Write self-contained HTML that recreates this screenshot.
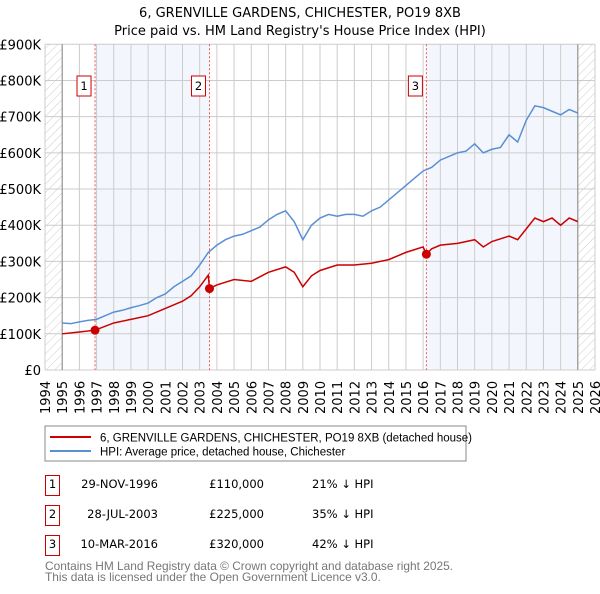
<!DOCTYPE html>
<html><head><meta charset="utf-8"><style>
body{margin:0;background:#fff;width:600px;height:590px;overflow:hidden;font-family:"DejaVu Sans","Liberation Sans",sans-serif;}
svg text{font-family:"DejaVu Sans","Liberation Sans",sans-serif;}
svg .lib{font-family:"Liberation Sans",sans-serif;}
</style></head><body>
<svg id="c" width="600" height="590" xmlns="http://www.w3.org/2000/svg">
<defs><pattern id="h" width="6" height="6" patternUnits="userSpaceOnUse" patternTransform="rotate(45)"><line x1="0" y1="0" x2="0" y2="6" stroke="#ccc" stroke-width="1"/></pattern></defs>
<text x="300" y="17" text-anchor="middle" font-size="13">6, GRENVILLE GARDENS, CHICHESTER, PO19 8XB</text>
<text x="300" y="35" text-anchor="middle" font-size="13">Price paid vs. HM Land Registry's House Price Index (HPI)</text>
<g id="plot"></g>
<rect x="45" y="426" width="421" height="35" fill="#fff" stroke="#888"/>
<line x1="50" y1="437" x2="91" y2="437" stroke="#cc0000" stroke-width="2"/>
<text class="lib" x="100" y="441.5" font-size="11.5">6, GRENVILLE GARDENS, CHICHESTER, PO19 8XB (detached house)</text>
<line x1="50" y1="451" x2="91" y2="451" stroke="#5b8fd4" stroke-width="2"/>
<text class="lib" x="100" y="455.5" font-size="11.5">HPI: Average price, detached house, Chichester</text>
<g class="lib" font-size="11.5">
<rect x="45.5" y="475.5" width="14" height="20" fill="#fff" stroke="#cc0000"/><text x="52.5" y="488" text-anchor="middle">1</text>
<text x="158" y="488" text-anchor="end">29-NOV-1996</text><text x="264" y="488" text-anchor="end">£110,000</text><text x="312" y="488">21% ↓ HPI</text>
<rect x="45.5" y="505.5" width="14" height="20" fill="#fff" stroke="#cc0000"/><text x="52.5" y="518" text-anchor="middle">2</text>
<text x="158" y="518" text-anchor="end">28-JUL-2003</text><text x="264" y="518" text-anchor="end">£225,000</text><text x="312" y="518">35% ↓ HPI</text>
<rect x="45.5" y="535.5" width="14" height="20" fill="#fff" stroke="#cc0000"/><text x="52.5" y="548" text-anchor="middle">3</text>
<text x="158" y="548" text-anchor="end">10-MAR-2016</text><text x="264" y="548" text-anchor="end">£320,000</text><text x="312" y="548">42% ↓ HPI</text>
</g>
<text class="lib" x="45" y="570" font-size="11.9" fill="#777">Contains HM Land Registry data © Crown copyright and database right 2025.</text>
<text class="lib" x="45" y="581" font-size="11.9" fill="#777">This data is licensed under the Open Government Licence v3.0.</text>
</svg>
<script>
const hpiYears=[1995,1995.5,1996,1996.5,1997,1997.5,1998,1998.5,1999,1999.5,2000,2000.5,2001,2001.5,2002,2002.5,2003,2003.5,2004,2004.5,2005,2005.5,2006,2006.5,2007,2007.5,2008,2008.5,2009,2009.5,2010,2010.5,2011,2011.5,2012,2012.5,2013,2013.5,2014,2014.5,2015,2015.5,2016,2016.5,2017,2017.5,2018,2018.5,2019,2019.5,2020,2020.5,2021,2021.5,2022,2022.5,2023,2023.5,2024,2024.5,2025];
const hpiValues=[130,128,133,137,140,150,160,165,172,178,185,200,210,230,245,260,290,325,345,360,370,375,385,395,415,430,440,410,360,400,420,430,425,430,430,425,440,450,470,490,510,530,550,560,580,590,600,605,625,600,610,615,650,630,690,730,725,715,705,720,710];
const ppYears=[1995,1996,1996.91,1998,1999,2000,2001,2002,2002.5,2003,2003.5,2003.57,2004,2005,2006,2007,2008,2008.5,2009,2009.5,2010,2011,2012,2013,2014,2015,2016,2016.19,2016.5,2017,2018,2019,2019.5,2020,2021,2021.5,2022,2022.5,2023,2023.5,2024,2024.5,2025];
const ppValues=[100,105,110,130,140,150,170,190,205,230,262,225,235,250,245,270,285,270,230,260,275,290,290,295,305,325,340,320,335,345,350,360,340,355,370,360,390,420,410,420,400,420,410];
const saleYears=[1996.91,2003.57,2016.19];
const saleValues=[110,225,320];
const saleLabels=["1","2","3"];
const yTicks=[0,100,200,300,400,500,600,700,800,900];
const yTickLabels=["£0","£100K","£200K","£300K","£400K","£500K","£600K","£700K","£800K","£900K"];
const xTicks=[];for(let y=1994;y<=2026;y++)xTicks.push(y);

const X0=45,X1=595,Y0=370,Y1=44.3;
const xs=y=>X0+(y-1994)/32*(X1-X0);
const ys=v=>Y0-v/900*(Y0-Y1);
const NS="http://www.w3.org/2000/svg";
const g=document.getElementById('plot');
function mk(t,a){const e=document.createElementNS(NS,t);for(const k in a)e.setAttribute(k,a[k]);g.appendChild(e);return e;}
let e;
e=mk('rect',{x:xs(saleYears[0]),y:Y1,width:xs(saleYears[1])-xs(saleYears[0]),height:Y0-Y1,fill:'#eef3fc',opacity:0.7});


e=mk('rect',{x:xs(saleYears[2]),y:Y1,width:xs(2025)-xs(saleYears[2]),height:Y0-Y1,fill:'#eef3fc',opacity:0.7});


e=mk('rect',{x:X0,y:Y1,width:xs(1995)-X0,height:Y0-Y1,fill:'url(#h)'});


e=mk('rect',{x:xs(2025),y:Y1,width:X1-xs(2025),height:Y0-Y1,fill:'url(#h)'});


yTicks.forEach((v,i)=>{
 e=mk('line',{x1:X0,x2:X1,y1:ys(v),y2:ys(v),stroke:'#ccc'});
 
 
 e=mk('text',{x:41,y:ys(v)+5,'text-anchor':'end','font-size':13});e.textContent=yTickLabels[i];
 
 
});
xTicks.forEach(y=>{
 e=mk('line',{x1:xs(y),x2:xs(y),y1:Y1,y2:Y0,stroke:'#ccc'});
 
 
 e=mk('text',{x:0,y:0,'font-size':13,transform:`translate(${xs(y)+5},414) rotate(-90)`});e.textContent=y;
 
 
});
e=mk('line',{x1:xs(1995),x2:xs(1995),y1:Y1,y2:Y0,stroke:'#888'});


e=mk('line',{x1:xs(2025),x2:xs(2025),y1:Y1,y2:Y0,stroke:'#888'});


saleYears.forEach((y,i)=>{
 e=mk('line',{x1:xs(y),x2:xs(y),y1:Y1,y2:Y0,stroke:'#e55','stroke-dasharray':'2,2'});
 
 
});
e=mk('polyline',{points:hpiYears.map((y,i)=>xs(y)+','+ys(hpiValues[i])).join(' '),fill:'none',stroke:'#5b8fd4','stroke-width':1.5});


e=mk('polyline',{points:ppYears.map((y,i)=>xs(y)+','+ys(ppValues[i])).join(' '),fill:'none',stroke:'#cc0000','stroke-width':1.5});


saleYears.forEach((y,i)=>{
 e=mk('circle',{cx:xs(y),cy:ys(saleValues[i]),r:4.5,fill:'#cc0000'});
 
 
 e=mk('rect',{x:xs(y)-18,y:76,width:14,height:20,fill:'#fff',stroke:'#cc0000'});
 
 
 e=mk('text',{x:xs(y)-11,y:90,'text-anchor':'middle','font-size':11.5});e.textContent=saleLabels[i];
 
 
});
</script>
</body></html>
